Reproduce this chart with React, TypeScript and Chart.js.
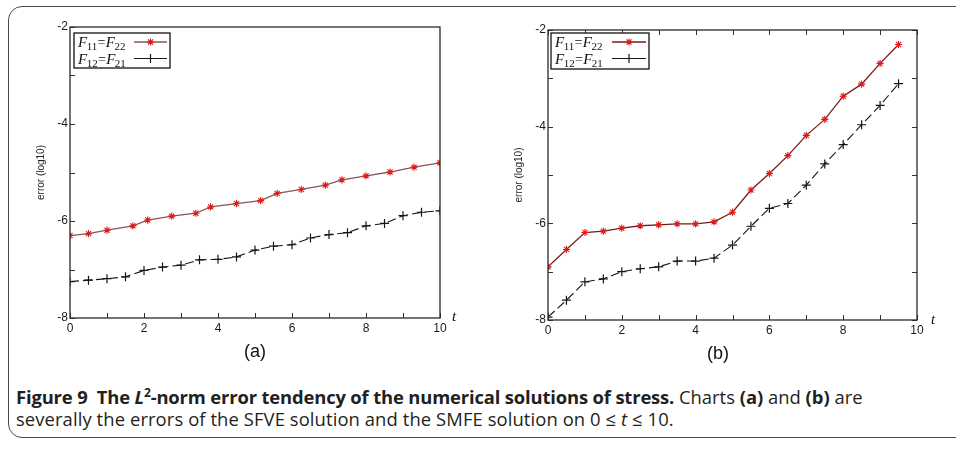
import React, { useEffect, useRef } from "react";
import { Chart, registerables } from "chart.js";

Chart.register(...registerables);

// ---------------- data ----------------
const legendLabels = ["F11=F22", "F12=F21"];

// chart (a): SFVE
const tA_F11 = [0, 0.5, 1, 1.7, 2.1, 2.75, 3.4, 3.8, 4.5, 5.15, 5.6, 6.25, 6.9, 7.35, 8, 8.65, 9.3, 10];
const errA_F11 = [-6.3, -6.26, -6.19, -6.1, -5.98, -5.9, -5.84, -5.71, -5.64, -5.58, -5.43, -5.35, -5.26, -5.15, -5.07, -4.99, -4.89, -4.8];
const tA_F12 = [0, 0.5, 1, 1.5, 2, 2.5, 3, 3.5, 4, 4.5, 5, 5.5, 6, 6.5, 7, 7.5, 8, 8.5, 9, 9.5, 10];
const errA_F12 = [-7.25, -7.22, -7.19, -7.15, -7.02, -6.95, -6.91, -6.8, -6.79, -6.74, -6.6, -6.52, -6.49, -6.35, -6.28, -6.24, -6.1, -6.05, -5.89, -5.82, -5.79];

// chart (b): SMFE
const tB = [0, 0.5, 1, 1.5, 2, 2.5, 3, 3.5, 4, 4.5, 5, 5.5, 6, 6.5, 7, 7.5, 8, 8.5, 9, 9.5];
const errB_F11 = [-6.9, -6.54, -6.19, -6.16, -6.1, -6.05, -6.03, -6.01, -6.01, -5.97, -5.77, -5.31, -4.97, -4.6, -4.18, -3.85, -3.37, -3.12, -2.69, -2.3];
const errB_F12 = [-7.94, -7.59, -7.21, -7.15, -7.0, -6.94, -6.9, -6.78, -6.78, -6.72, -6.45, -6.06, -5.69, -5.59, -5.21, -4.77, -4.37, -3.96, -3.56, -3.11];

const xTicksMin = 0;
const xTicksMax = 10;
const yTicksMin = -8;
const yTicksMax = -2;

const FONT = "'Liberation Sans', Arial, sans-serif";
const SERIF = "'Liberation Serif', 'Times New Roman', serif";

function pts(xs: number[], ys: number[]) {
  return xs.map((x, i) => ({ x, y: ys[i] }));
}

function drawMarker(ctx: CanvasRenderingContext2D, style: string, cx: number, cy: number, r: number) {
  ctx.beginPath();
  ctx.moveTo(cx - r, cy);
  ctx.lineTo(cx + r, cy);
  ctx.moveTo(cx, cy - r);
  ctx.lineTo(cx, cy + r);
  if (style === "star") {
    const d = r * 0.7071;
    ctx.moveTo(cx - d, cy - d);
    ctx.lineTo(cx + d, cy + d);
    ctx.moveTo(cx - d, cy + d);
    ctx.lineTo(cx + d, cy - d);
  }
  ctx.stroke();
}

const decorPlugin = {
  id: "decor",
  afterDraw(chart: any, _args: any, opts: any) {
    const { ctx, chartArea: a, scales } = chart;
    const xs = scales.x;
    const ys = scales.y;
    ctx.save();
    // inward ticks
    ctx.strokeStyle = "#333";
    ctx.lineWidth = 1;
    ctx.setLineDash([]);
    ctx.beginPath();
    xs.ticks.forEach((t: any) => {
      const px = Math.round(xs.getPixelForValue(t.value)) + 0.5;
      ctx.moveTo(px, a.bottom);
      ctx.lineTo(px, a.bottom - 5);
      if (opts.mirror) {
        ctx.moveTo(px, a.top);
        ctx.lineTo(px, a.top + 5);
      }
    });
    ys.ticks.forEach((t: any) => {
      const py = Math.round(ys.getPixelForValue(t.value)) + 0.5;
      ctx.moveTo(a.left, py);
      ctx.lineTo(a.left + 5, py);
      if (opts.mirror) {
        ctx.moveTo(a.right, py);
        ctx.lineTo(a.right - 5, py);
      }
    });
    ctx.stroke();
    // frame
    ctx.strokeStyle = "#2a2a2a";
    ctx.lineWidth = 1.3;
    ctx.strokeRect(a.left, a.top, a.right - a.left, a.bottom - a.top);

    // legend
    const bx = a.left + opts.lx;
    const by = a.top + opts.ly;
    const bw = opts.lw;
    const bh = opts.lh;
    ctx.fillStyle = "#fff";
    ctx.fillRect(bx, by, bw, bh);
    ctx.strokeStyle = "#222";
    ctx.lineWidth = 1.4;
    ctx.strokeRect(bx, by, bw, bh);
    chart.data.datasets.forEach((ds: any, i: number) => {
      const rowY = by + 9 + i * 16.5;
      const base = rowY + 5;
      const m = /F(\d+)=F(\d+)/.exec(ds.label) || ["", "", ""];
      const pieces = [
        { t: "F", f: `italic 15px ${SERIF}`, dy: 0 },
        { t: m[1], f: `11px ${SERIF}`, dy: 3 },
        { t: "=", f: `14px ${SERIF}`, dy: 0 },
        { t: "F", f: `italic 15px ${SERIF}`, dy: 0 },
        { t: m[2], f: `11px ${SERIF}`, dy: 3 },
      ];
      let x = bx + 4;
      ctx.fillStyle = "#111";
      ctx.textBaseline = "alphabetic";
      ctx.textAlign = "left";
      pieces.forEach((p) => {
        ctx.font = p.f;
        ctx.fillText(p.t, x, base + p.dy);
        x += ctx.measureText(p.t).width + (p.t === "F" ? -0.5 : 0.3);
      });
      const l1 = bx + opts.sx1;
      const l2 = bx + opts.sx2;
      ctx.strokeStyle = ds.borderColor;
      ctx.lineWidth = ds.borderWidth;
      ctx.setLineDash([]);
      ctx.beginPath();
      ctx.moveTo(l1, rowY);
      ctx.lineTo(l2, rowY);
      ctx.stroke();
      ctx.strokeStyle = ds.pointBorderColor;
      ctx.lineWidth = ds.pointBorderWidth;
      drawMarker(ctx, ds.pointStyle, (l1 + l2) / 2, rowY, ds.pointRadius);
    });
    ctx.restore();
  },
};

function buildConfig(
  d1: { x: number; y: number }[],
  d2: { x: number; y: number }[],
  redLine: string,
  pad: { top: number; right: number },
  xAxisH: number,
  deco: any
): any {
  return {
    type: "line",
    data: {
      datasets: [
        {
          label: legendLabels[0],
          data: d1,
          borderColor: redLine,
          borderWidth: 1.3,
          pointStyle: "star",
          pointRadius: 3.6,
          pointBorderColor: "#e01818",
          pointBackgroundColor: "#e01818",
          pointBorderWidth: 1.1,
          tension: 0,
          fill: false,
        },
        {
          label: legendLabels[1],
          data: d2,
          borderColor: "#151520",
          borderWidth: 1.1,
          borderDash: [9, 4],
          pointStyle: "cross",
          pointRadius: 4.5,
          pointBorderColor: "#151520",
          pointBackgroundColor: "#151520",
          pointBorderWidth: 1.2,
          tension: 0,
          fill: false,
        },
      ],
    },
    options: {
      responsive: false,
      animation: false,
      devicePixelRatio: 1,
      layout: { padding: { left: 0, right: pad.right, top: pad.top, bottom: 0 } },
      plugins: {
        legend: { display: false },
        tooltip: { enabled: false },
        decor: deco,
      },
      scales: {
        x: {
          type: "linear",
          min: xTicksMin,
          max: xTicksMax,
          ticks: {
            stepSize: 1,
            autoSkip: false,
            maxRotation: 0,
            padding: 3,
            color: "#1a1a1a",
            font: { family: FONT, size: 12 },
            callback: (v: number) => (v % 2 === 0 ? String(v) : ""),
          },
          grid: { display: false, drawTicks: false },
          border: { display: false },
          afterFit: (s: any) => {
            s.height = xAxisH;
          },
        },
        y: {
          type: "linear",
          min: yTicksMin,
          max: yTicksMax,
          ticks: {
            stepSize: 1,
            autoSkip: false,
            padding: 2,
            color: "#1a1a1a",
            font: { family: FONT, size: 12 },
            callback: (v: number) => (v % 2 === 0 ? String(v) : ""),
          },
          grid: { display: false, drawTicks: false },
          border: { display: false },
          title: {
            display: true,
            text: "error (log10)",
            color: "#222",
            font: { family: FONT, size: 10 },
            padding: { top: 35, bottom: 0 },
          },
          afterFit: (s: any) => {
            s.width = 70;
          },
        },
      },
    },
    plugins: [decorPlugin],
  };
}

function ChartCanvas({ config, left }: { config: any; left: number }) {
  const ref = useRef<HTMLCanvasElement | null>(null);
  useEffect(() => {
    if (!ref.current) return;
    const c = new Chart(ref.current, config);
    return () => c.destroy();
  }, []);
  return (
    <canvas
      ref={ref}
      width={478}
      height={345}
      style={{ position: "absolute", left, top: 0, width: 478, height: 345 }}
    />
  );
}

export default function App() {
  const cfgA = buildConfig(
    pts(tA_F11, errA_F11),
    pts(tA_F12, errA_F12),
    "#8a5555",
    { top: 27, right: 38 },
    27,
    { mirror: false, lx: 4, ly: 6, lw: 96, lh: 35, sx1: 60, sx2: 93 }
  );
  const cfgB = buildConfig(
    pts(tB, errB_F11),
    pts(tB, errB_F12),
    "#7a1a1a",
    { top: 30, right: 39 },
    25,
    { mirror: true, lx: 3, ly: 3, lw: 98, lh: 36, sx1: 61, sx2: 95 }
  );
  const label: React.CSSProperties = {
    position: "absolute",
    transform: "translate(-50%, -50%)",
    color: "#111",
    whiteSpace: "nowrap",
  };
  return (
    <div
      style={{
        position: "absolute",
        left: 0,
        top: 0,
        width: 956,
        height: 454,
        background: "#fff",
        overflow: "hidden",
      }}
    >
      <div
        style={{
          position: "absolute",
          left: 8,
          top: 6,
          width: 1000,
          height: 430,
          border: "1.5px solid #4a4a4a",
          borderRadius: 14,
        }}
      />
      <ChartCanvas config={cfgA} left={0} />
      <ChartCanvas config={cfgB} left={478} />
      <div style={{ ...label, left: 454, top: 316, font: `italic 15px ${SERIF}` }}>t</div>
      <div style={{ ...label, left: 933, top: 319, font: `italic 15px ${SERIF}` }}>t</div>
      <div style={{ ...label, left: 255, top: 351, font: `18px ${FONT}` }}>(a)</div>
      <div style={{ ...label, left: 718, top: 353, font: `18px ${FONT}` }}>(b)</div>
      <div
        style={{
          position: "absolute",
          left: 16,
          top: 386,
          width: 940,
          font: `18.4px 'Open Sans', 'Noto Sans', sans-serif`,
          lineHeight: "22px",
          color: "#231f20",
        }}
      >
        <div style={{ whiteSpace: "nowrap" }}>
          <b style={{ letterSpacing: "-0.15px" }}>
            Figure 9&nbsp; The <i>L</i>
            <sup style={{ fontSize: 12, lineHeight: 0 }}>2</sup>-norm error tendency of the numerical solutions of stress.
          </b>{" "}
          Charts <b>(a)</b> and <b>(b)</b> are
        </div>
        <div style={{ whiteSpace: "nowrap", letterSpacing: "0.1px" }}>
          severally the errors of the SFVE solution and the SMFE solution on 0 ≤ <i>t</i> ≤ 10.
        </div>
      </div>
    </div>
  );
}
